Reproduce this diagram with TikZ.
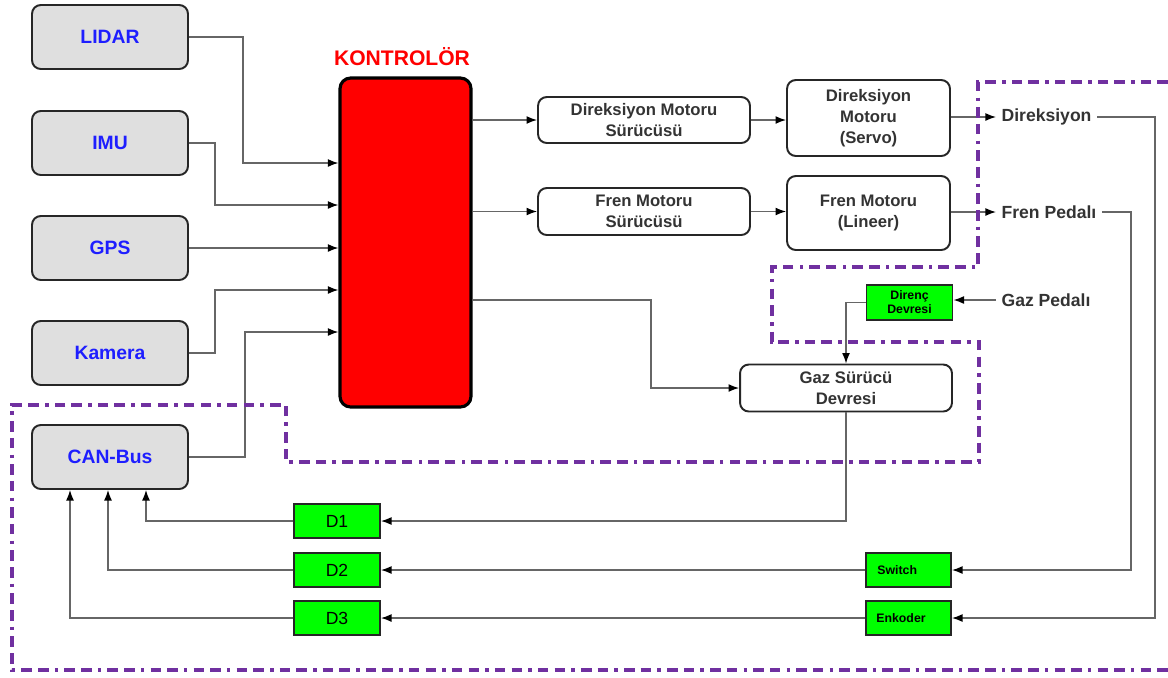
\documentclass[tikz,border=0pt]{standalone}
\usepackage{fontspec}
\setmainfont{Liberation Sans}
\usetikzlibrary{arrows.meta}
\definecolor{mor}{HTML}{7030A0}
\definecolor{koyu}{HTML}{333333}
\definecolor{mavi}{HTML}{1E1EFF}
\tikzset{every node/.style={align=center,inner sep=3pt}}
\tikzset{sn/.style={rectangle,rounded corners=5pt,draw=black!85,line width=1.1pt,fill=gray!25,text=mavi,minimum width=3.12cm,minimum height=1.28cm,font=\fontsize{11}{13}\selectfont\bfseries}}
\tikzset{ctl/.style={rectangle,rounded corners=6pt,draw=black,line width=1.8pt,fill=red,minimum width=2.62cm,minimum height=6.58cm}}
\tikzset{wb/.style={rectangle,rounded corners=5pt,draw=black!85,line width=1.1pt,fill=white,text=koyu,minimum width=4.24cm,font=\fontsize{9.5}{12}\selectfont\bfseries}}
\tikzset{gb/.style={rectangle,draw=black!85,line width=1.1pt,fill=green,minimum width=1.72cm,minimum height=0.68cm}}
\tikzset{tx/.style={anchor=west,text=koyu,font=\fontsize{10}{12}\selectfont\bfseries}}
\tikzset{ln/.style={-{Latex[length=6pt,width=4.5pt,color=black]},draw=black!60,line width=0.75pt}}
\tikzset{bolge/.style={draw=mor,line width=1.9pt,dash pattern=on 6pt off 3.5pt on 6pt off 3.5pt on 2pt off 3.5pt}}

\begin{document}
\begin{tikzpicture}[x=0.02cm,y=-0.02cm]
\useasboundingbox (0,0) rectangle (1168,677);

\node[sn](lidar) at (110,37) {LIDAR};
\node[sn](imu) at (110,143) {IMU};
\node[sn](gps) at (110,248) {GPS};
\node[sn](kam) at (110,353) {Kamera};
\node[sn](can) at (110,457) {CAN-Bus};

\node[ctl](ctl) at (405.5,242.5) {};
\node[text=red,font=\fontsize{12}{14}\selectfont\bfseries](kontlbl) at (402,57) {KONTROLÖR};

\node[wb,minimum height=0.92cm](dms) at (644,120) {Direksiyon Motoru\\Sürücüsü};
\node[wb,minimum height=0.94cm](fms) at (644,211.5) {Fren Motoru\\Sürücüsü};
\node[wb,minimum width=3.26cm,minimum height=1.52cm](srv) at (868.5,118) {Direksiyon\\Motoru\\(Servo)};
\node[wb,minimum width=3.26cm,minimum height=1.48cm](lin) at (868.5,213) {Fren Motoru\\(Lineer)};
\node[wb,minimum height=0.94cm](gaz) at (846,388) {Gaz Sürücü\\Devresi};

\node[gb,minimum height=0.70cm,font=\fontsize{7}{8}\selectfont\bfseries](dirn) at (909.5,302.5) {Direnç\\Devresi};
\node[gb,minimum width=1.70cm,font=\fontsize{7}{8}\selectfont\bfseries](sw) at (908.5,570) {\hspace*{-0.45cm}Switch};
\node[gb,minimum width=1.70cm,font=\fontsize{7}{8}\selectfont\bfseries](enk) at (908.5,618) {\hspace*{-0.3cm}Enkoder};

\node[gb,font=\fontsize{10}{12}\selectfont](d1) at (337,521) {D1};
\node[gb,font=\fontsize{10}{12}\selectfont](d2) at (337,570) {D2};
\node[gb,font=\fontsize{10}{12}\selectfont](d3) at (337,618) {D3};

\node[tx](tdir) at (996,117) {Direksiyon};
\node[tx](tfren) at (996,212) {Fren Pedalı};
\node[tx](tgaz) at (996,300) {Gaz Pedalı};

% sensorler -> kontrolor
\draw[ln] (lidar.east) -| (243,163) -- (ctl.west |- 0,163);
\draw[ln] (imu.east) -| (215,205) -- (ctl.west |- 0,205);
\draw[ln] (gps.east) -- (ctl.west |- gps);
\draw[ln] (kam.east) -| (215,290) -- (ctl.west |- 0,290);
\draw[ln] (can.east) -| (245,332) -- (ctl.west |- 0,332);

% kontrolor -> suruculer
\draw[ln] (ctl.east |- dms) -- (dms.west);
\draw[ln] (ctl.east |- fms) -- (fms.west);
\draw[ln] (ctl.east |- 0,300) -| (651,388) -- (gaz.west);

\foreach \s/\t in {dms/srv,fms/lin}
  \draw[ln] (\s.east) -- (\s.east -| \t.west);

\draw[ln] (srv.east |- tdir) -- (tdir.west);
\draw[ln] (lin.east |- tfren) -- (tfren.west);
\draw[ln] (tgaz.west) -- (tgaz.west -| dirn.east);
\draw[ln] (dirn.west) -| (gaz.north);

% geri besleme
\draw[ln] (tdir.east) -- (1155,117) |- (enk.east);
\draw[ln] (tfren.east) -- (1131,212) |- (sw.east);
\draw[ln] (gaz.south) |- (d1.east);
\draw[ln] (sw.west) -- (d2.east);
\draw[ln] (enk.west) -- (d3.east);
\draw[ln] (d1.west) -| ([xshift=0.72cm]can.south);
\draw[ln] (d2.west) -| ([xshift=-0.04cm]can.south);
\draw[ln] (d3.west) -| ([xshift=-0.8cm]can.south);

% kesikli bolge
\draw[bolge] (1168,82) -- (978,82) -- (978,267) -- (772,267) -- (772,342) -- (979,342) -- (979,462) -- (286,462) -- (286,405) -- (12,405) -- (12,670) -- (1168,670);
\end{tikzpicture}
\end{document}
